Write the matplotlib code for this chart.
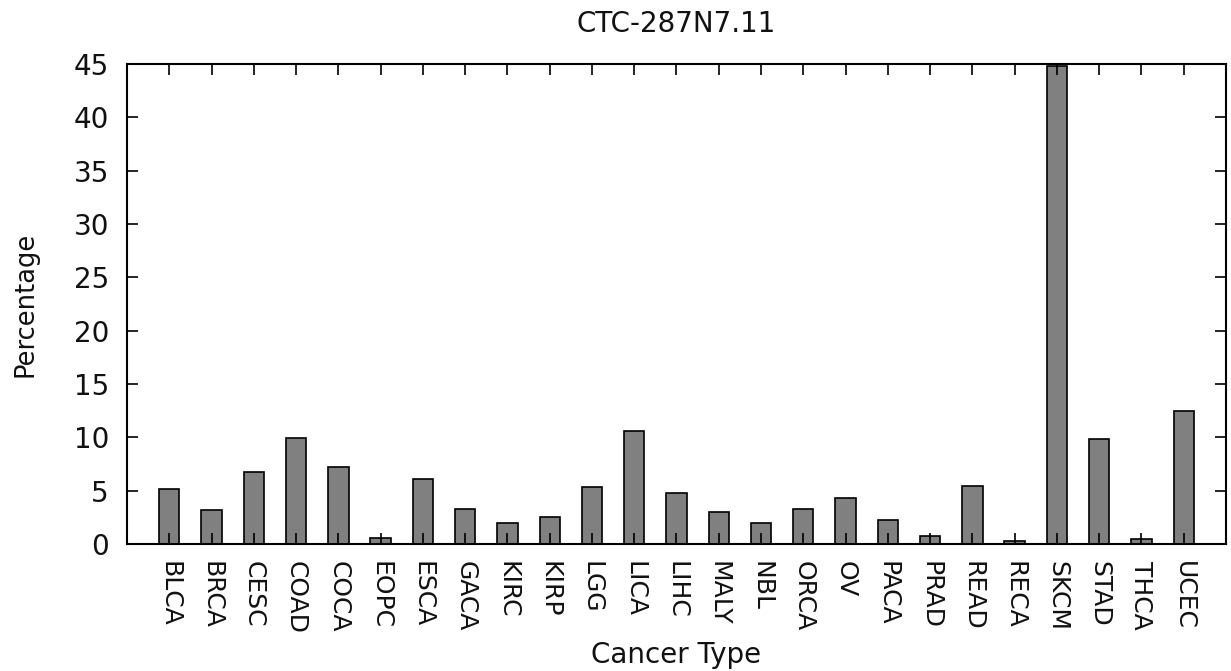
import matplotlib
matplotlib.use("Agg")
import matplotlib.pyplot as plt

categories = ["BLCA", "BRCA", "CESC", "COAD", "COCA", "EOPC", "ESCA", "GACA", "KIRC",
              "KIRP", "LGG", "LICA", "LIHC", "MALY", "NBL", "ORCA", "OV", "PACA", "PRAD",
              "READ", "RECA", "SKCM", "STAD", "THCA", "UCEC"]
values = [5.13, 3.19, 6.75, 9.93, 7.25, 0.53, 6.09, 3.31, 2.0,
          2.5, 5.37, 10.56, 4.81, 2.97, 2.0, 3.25, 4.31, 2.22, 0.78,
          5.44, 0.31, 44.8, 9.81, 0.44, 12.47]
yticks = [0, 5, 10, 15, 20, 25, 30, 35, 40, 45]

plt.rcParams['font.family'] = ['DejaVu Sans']
fig = plt.figure(figsize=(12.31, 6.71), dpi=100)
ax = fig.add_axes([0.1032, 0.1893, 0.8927, 0.7153])

x = list(range(len(categories)))
ax.bar(x, values, width=0.48, color="#808080", edgecolor="black", linewidth=1.2, zorder=1)

ax.set_xlim(-1, len(categories))
ax.set_ylim(0, 45)
ax.set_xticks(x)
ax.set_xticklabels(categories, rotation=-90, fontsize=18, color="#111111")
ax.set_yticks(yticks)
ax.set_yticklabels([str(v) for v in yticks], fontsize=20, color="#111111")
ax.tick_params(axis="both", direction="in", length=8, width=1.2, top=True, right=True)
ax.tick_params(axis="y", pad=13)
ax.tick_params(axis="x", pad=12)
for s in ax.spines.values():
    s.set_linewidth(1.5)
    s.set_zorder(3)

ax.set_xlabel("Cancer Type", fontsize=20, labelpad=5, color="#111111")
ax.set_ylabel("Percentage", fontsize=18.5, labelpad=25, color="#111111")
ax.set_title("CTC-287N7.11", fontsize=20, pad=23, color="#111111")

fig.savefig("out.png", dpi=100)
